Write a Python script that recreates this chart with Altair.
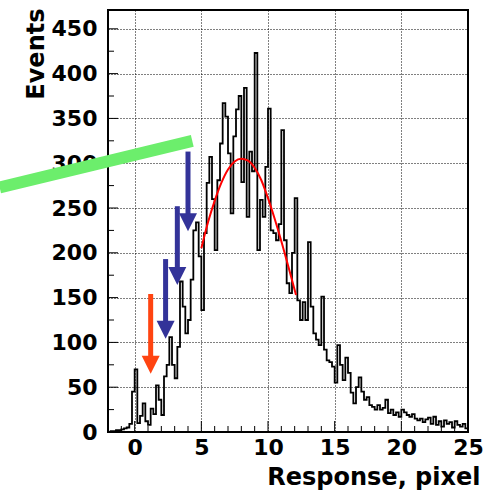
import altair as alt
import pandas as pd

FONT = "DejaVu Sans"

# Histogram: bins of width 0.2 starting at -2.0
bin_lo = -2.0
bin_w = 0.2
counts = [0, 1, 1, 2, 2, 3, 4, 5, 9, 45,
          70, 10, 18, 32, 12, 8, 26, 20, 52, 36,
          19, 62, 75, 106, 75, 60, 95, 168, 140, 110,
          125, 170, 225, 234, 196, 136, 222, 278, 307, 260,
          203, 281, 322, 367, 352, 311, 244, 330, 360, 375,
          279, 384, 240, 313, 291, 423, 203, 259, 240, 296,
          361, 225, 222, 214, 232, 337, 214, 166, 155, 200,
          261, 147, 125, 145, 125, 212, 140, 110, 103, 97,
          151, 92, 80, 78, 73, 55, 97, 75, 58, 83,
          66, 44, 32, 50, 61, 45, 36, 39, 30, 28,
          25, 30, 25, 27, 36, 21, 25, 19, 22, 17,
          25, 22, 19, 17, 20, 15, 13, 15, 11, 14,
          16, 9, 17, 8, 12, 6, 13, 9, 11, 5,
          12, 8, 6, 9, 4]

# Fit curve points
fit_x = [5.0, 5.5, 6.0, 6.5, 7.0, 7.5, 8.0, 8.5, 9.0, 9.5, 10.0, 10.5, 11.0, 11.5, 12.1]
fit_y = [205, 234, 258, 278, 293, 302, 305, 303, 295, 281, 261, 238, 213, 186, 153]

# Arrows: x position, shaft top, head centre
red_arrow_x = [1.2]
red_arrow_top = [154]
red_arrow_head = [75]
blue_arrow_x = [2.32, 3.2, 4.0]
blue_arrow_top = [193, 252, 313]
blue_arrow_head = [114, 174, 234]

# Green bar (extends beyond the frame)
green_x = [-10.13, 4.32]
green_y = [273, 325]

# Axis ticks
x_major = [0, 5, 10, 15, 20, 25]
x_minor = [-2, -1, 1, 2, 3, 4, 6, 7, 8, 9, 11, 12, 13, 14, 16, 17, 18, 19, 21, 22, 23, 24]
y_major = [0, 50, 100, 150, 200, 250, 300, 350, 400, 450]
y_minor = [25, 75, 125, 175, 225, 275, 325, 375, 425]

edges = [round(bin_lo + i * bin_w, 3) for i in range(len(counts) + 1)]
hist_df = pd.DataFrame({"x": edges, "y": counts + [counts[-1]]})
fit_df = pd.DataFrame({"x": fit_x, "y": fit_y})
red_df = pd.DataFrame({"x": red_arrow_x, "y": red_arrow_top, "y2": red_arrow_head})
blue_df = pd.DataFrame({"x": blue_arrow_x, "y": blue_arrow_top, "y2": blue_arrow_head})
green_df = pd.DataFrame({"x": green_x, "y": green_y})

PW, PH = 360, 422

xs = alt.Scale(domain=[-2, 25], nice=False, zero=False)
ys = alt.Scale(domain=[0, 471], nice=False, zero=False)

x_axis = alt.Axis(
    values=x_major, title="Response, pixel", grid=True, gridColor="black",
    gridDash=[1, 2], gridWidth=1, gridOpacity=1, domain=False, ticks=False, tickSize=0,
    labelFont=FONT, labelFontWeight="bold", labelFontSize=22, labelColor="black",
    labelPadding=5, labelOverlap=False, labelFlush=False, labelBound=False,
    titleFont=FONT, titleFontWeight="bold", titleFontSize=24, titleColor="black",
    titleX=372, titleY=52, titleAlign="right", titleBaseline="alphabetic", titleAngle=0,
)
y_axis = alt.Axis(
    values=y_major, title="Events", grid=True, gridColor="black",
    gridDash=[1, 2], gridWidth=1, gridOpacity=1, domain=False, ticks=False, tickSize=0,
    labelFont=FONT, labelFontWeight="bold", labelFontSize=22, labelColor="black",
    labelPadding=11, labelOverlap=False, labelFlush=False, labelBound=False,
    labelAlign="right", labelBaseline="middle",
    titleFont=FONT, titleFontWeight="bold", titleFontSize=24, titleColor="black",
    titleX=-65, titleY=-2, titleAlign="right", titleBaseline="alphabetic", titleAngle=270,
)

hist = alt.Chart(hist_df).mark_line(
    interpolate="step-after", color="black", strokeWidth=1.8
).encode(
    x=alt.X("x:Q", scale=xs, axis=x_axis),
    y=alt.Y("y:Q", scale=ys, axis=y_axis),
)

fit = alt.Chart(fit_df).mark_line(
    interpolate="monotone", color="#ff0000", strokeWidth=2
).encode(
    x=alt.X("x:Q", scale=xs),
    y=alt.Y("y:Q", scale=ys),
)

xmaj = alt.Chart(pd.DataFrame({"x": x_major})).mark_rule(color="black", strokeWidth=1).encode(
    x=alt.X("x:Q", scale=xs), y=alt.value(PH), y2=alt.value(PH - 11))
xmin = alt.Chart(pd.DataFrame({"x": x_minor})).mark_rule(color="black", strokeWidth=1).encode(
    x=alt.X("x:Q", scale=xs), y=alt.value(PH), y2=alt.value(PH - 6))
ymaj = alt.Chart(pd.DataFrame({"y": y_major})).mark_rule(color="black", strokeWidth=1).encode(
    y=alt.Y("y:Q", scale=ys), x=alt.value(0), x2=alt.value(10))
ymin = alt.Chart(pd.DataFrame({"y": y_minor})).mark_rule(color="black", strokeWidth=1).encode(
    y=alt.Y("y:Q", scale=ys), x=alt.value(0), x2=alt.value(6))

TRI = "M-1,-1L1,-1L0,1Z"

def arrow(df, color):
    shaft = alt.Chart(df).mark_rule(color=color, strokeWidth=5).encode(
        x=alt.X("x:Q", scale=xs),
        y=alt.Y("y:Q", scale=ys),
        y2="y2:Q",
    )
    head = alt.Chart(df).mark_point(
        shape=TRI, filled=True, size=324, color=color, opacity=1, strokeWidth=0
    ).encode(
        x=alt.X("x:Q", scale=xs),
        y=alt.Y("y2:Q", scale=ys),
    )
    return shaft + head

green = alt.Chart(green_df).mark_line(
    color="#6cee6c", strokeWidth=12, strokeCap="butt", clip=False
).encode(
    x=alt.X("x:Q", scale=xs),
    y=alt.Y("y:Q", scale=ys),
)

chart = alt.layer(
    hist, fit, xmaj, xmin, ymaj, ymin,
    arrow(red_df, "#ff4411"), arrow(blue_df, "#333399"), green
).properties(
    width=PW, height=PH,
    autosize=alt.AutoSizeParams(type="none"),
    padding={"left": 108, "top": 10, "right": 23, "bottom": 58},
    background="white",
).configure_view(stroke="black", strokeWidth=2)

chart.save("out.html", embed_options={"renderer": "svg", "actions": False})
